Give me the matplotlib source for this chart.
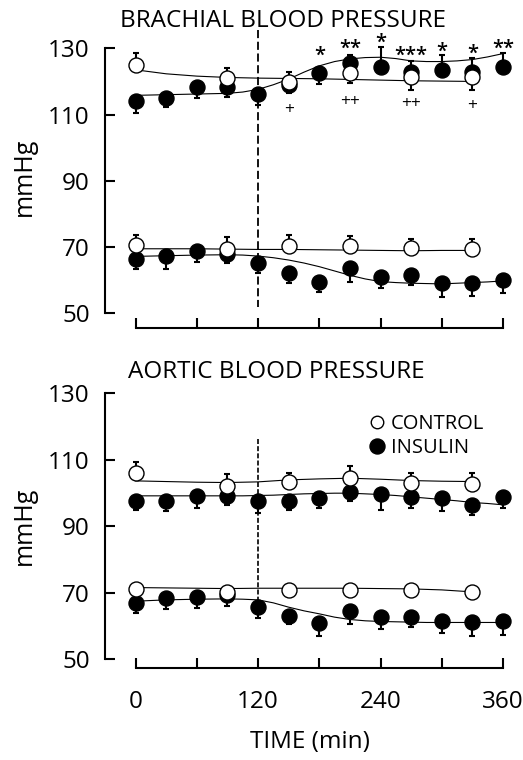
import numpy as np
import matplotlib
matplotlib.use("Agg")
import matplotlib.pyplot as plt
from matplotlib.lines import Line2D
from matplotlib.transforms import offset_copy
from matplotlib.textpath import TextPath
from matplotlib.font_manager import FontProperties

plt.rcParams['font.family'] = ['Open Sans', 'DejaVu Sans']

# sampling times (min)
t_ins = [0, 30, 60, 90, 120, 150, 180, 210, 240, 270, 300, 330, 360]
t_con = [0, 90, 150, 210, 270, 330]

# brachial systolic / diastolic (mmHg); signed error = direction of the bar
bs_con = [125.0, 120.9, 119.9, 122.6, 121.4, 121.4]
bs_con_err = [3.7, 3.1, 3.0, -3.2, -4.0, -4.0]
bs_ins = [114.2, 114.9, 118.2, 118.2, 116.2, 118.9, 122.6, 125.5, 124.4, 122.9, 123.4, 122.9, 124.3]
bs_ins_err = [-3.6, -2.7, -3.3, -2.8, -3.3, -2.5, -3.4, 2.5, 6.1, 3.4, 4.6, 4.1, 4.2]
bd_con = [70.7, 69.4, 70.4, 70.4, 69.7, 69.4]
bd_con_err = [3.0, 3.8, 3.3, 3.0, 2.8, 2.9]
bd_ins = [66.4, 67.2, 68.7, 67.8, 65.3, 62.3, 59.6, 63.6, 61.1, 61.6, 59.3, 59.3, 60.1]
bd_ins_err = [-3.1, -3.9, -3.1, -2.6, -3.2, -3.0, -3.1, -4.0, -3.5, -3.0, -4.3, -4.1, -3.9]

# aortic systolic / diastolic
as_con = [106.2, 102.3, 103.3, 104.5, 103.0, 102.8]
as_con_err = [3.3, 3.4, 2.9, 3.8, 3.2, 3.4]
as_ins = [97.7, 97.5, 99.2, 99.2, 97.7, 97.7, 98.5, 100.5, 99.8, 98.7, 98.5, 96.5, 98.8]
as_ins_err = [-2.7, -3.0, -3.7, -2.7, -3.7, -2.7, -3.0, -3.0, -5.0, -3.2, -4.0, -3.2, -3.3]
ad_con = [71.3, 70.3, 71.0, 71.0, 71.0, 70.3]
ad_con_err = [0.9, 0.9, 0.9, 0.9, 0.9, 0.9]
ad_ins = [67.0, 68.6, 68.8, 69.3, 65.8, 63.0, 60.8, 64.6, 62.6, 62.6, 61.5, 61.3, 61.5]
ad_ins_err = [-3.2, -3.3, -3.3, -3.3, -3.3, -2.5, -3.7, -4.1, -3.6, -3.0, -3.7, -4.2, -4.1]

# fitted curves
fit_t_con = [0, 30, 60, 90, 120, 150, 180, 210, 240, 270, 300, 330]
fit_t_ins = [0, 30, 60, 90, 105, 120, 135, 150, 165, 180, 195, 210, 225, 240,
             255, 270, 285, 300, 315, 330, 345, 360]
bs_con_fit = [123.5, 122.3, 121.6, 121.2, 121.0, 120.9, 120.8, 120.6, 120.4, 120.2, 120.1, 120.0]
bs_ins_fit = [115.8, 116.0, 116.2, 116.4, 116.8, 117.6, 119.0, 120.7, 122.8, 124.7, 126.0, 126.8,
              127.2, 127.3, 126.9, 126.2, 126.0, 126.0, 126.2, 126.6, 127.4, 128.4]
bd_con_fit = [69.5, 69.5, 69.5, 69.4, 69.3, 69.3, 69.2, 69.1, 69.0, 68.9, 69.0, 69.0]
bd_ins_fit = [67.2, 67.4, 67.6, 67.7, 67.6, 67.3, 66.8, 66.1, 65.2, 64.1, 62.8, 61.5,
              60.4, 59.6, 59.3, 59.1, 59.0, 58.9, 59.1, 59.3, 59.5, 59.8]
as_con_fit = [103.7, 103.5, 103.3, 103.2, 103.4, 104.0, 104.3, 104.5, 104.2, 103.8, 103.6, 103.5]
as_ins_fit = [99.2, 99.2, 99.2, 99.2, 99.2, 99.3, 99.4, 99.6, 99.8, 99.9, 100.0, 100.0,
              99.8, 99.6, 99.3, 98.9, 98.5, 98.1, 97.7, 97.2, 96.9, 96.5]
ad_con_fit = [71.6, 71.5, 71.4, 71.3, 71.4, 71.4, 71.4, 71.4, 71.3, 71.2, 70.9, 70.3]
ad_ins_fit = [67.5, 67.9, 68.1, 68.2, 68.1, 67.9, 67.0, 65.7, 64.6, 63.7, 62.7, 62.0,
              61.6, 61.4, 61.3, 61.2, 61.1, 61.1, 61.1, 61.1, 61.1, 61.1]

# significance marks (brachial panel), y = centre of the glyphs
star_t = [180, 210, 240, 270, 300, 330, 360]
star_txt = ['*', '**', '*', '***', '*', '*', '**']
star_y = [129.3, 131.7, 133.3, 129.4, 130.6, 130.0, 131.7]
plus_t = [150, 210, 270, 330]
plus_txt = ['+', '++', '++', '+']
plus_y = [111.9, 114.4, 113.9, 113.2]

W, H = 523, 760
fig = plt.figure(figsize=(W / 100, H / 100), dpi=100)


def add_ax(left, top, right, bottom):
    return fig.add_axes([left / W, 1 - bottom / H, (right - left) / W, (bottom - top) / H])


def yerr(e):
    e = np.asarray(e)
    return [np.clip(-e, 0, None), np.clip(e, 0, None)]


def series(ax, t, y, e, filled, z):
    fc = 'black' if filled else 'white'
    ax.errorbar(t, y, yerr=yerr(e), fmt='none', ecolor='black', elinewidth=1.5,
                capsize=2.5, capthick=1.5, zorder=z)
    ax.plot(t, y, 'o', ms=10.8, mfc=fc, mec='black', mew=1.0, zorder=z + 0.5, clip_on=False)


def style(ax, ylim, labels):
    ax.set_xlim(-30, 372)
    ax.set_ylim(*ylim)
    for s in ['top', 'right']:
        ax.spines[s].set_visible(False)
    ax.spines['left'].set_bounds(50, 130)
    ax.spines['bottom'].set_bounds(0, 360)
    for s in ['left', 'bottom']:
        ax.spines[s].set_linewidth(1.5)
    ax.set_yticks([50, 70, 90, 110, 130])
    ax.set_xticks(range(0, 361, 60))
    ax.set_xticklabels(labels)
    ax.tick_params(direction='in', length=7, width=1.5, labelsize=17.5)
    ax.tick_params(axis='y', pad=11)
    ax.tick_params(axis='x', pad=16)
    ax.set_ylabel('mmHg', fontsize=18, labelpad=8)
    ax.patch.set_visible(False)


def glyph_center(s, fs, weight='normal'):
    # vertical middle of the glyph ink above the baseline, in points
    prop = FontProperties(family='Open Sans', weight=weight)
    ext = TextPath((0, 0), s, size=fs, prop=prop).get_extents()
    return (ext.y0 + ext.y1) / 2


# ---- brachial ----
ax1 = add_ax(105, 25.1, 515.2, 328.3)
style(ax1, (45.5, 137), [''] * 7)
ax1.plot([120, 120], [135.4, 51.8], color='black', lw=1.3, ls=(0, (4.5, 2)), zorder=1, clip_on=False)
ax1.plot(fit_t_con, bs_con_fit, color='black', lw=0.8, zorder=2)
ax1.plot(fit_t_ins, bs_ins_fit, color='black', lw=0.8, zorder=2)
ax1.plot(fit_t_con, bd_con_fit, color='black', lw=0.8, zorder=2)
ax1.plot(fit_t_ins, bd_ins_fit, color='black', lw=0.8, zorder=2)
series(ax1, t_ins, bs_ins, bs_ins_err, True, 3)
series(ax1, t_con, bs_con, bs_con_err, False, 5)
series(ax1, t_ins, bd_ins, bd_ins_err, True, 3)
series(ax1, t_con, bd_con, bd_con_err, False, 5)

star_fs, plus_fs = 14.5, 12.5
star_tr = offset_copy(ax1.transData, fig=fig, y=-glyph_center('*', star_fs, 'semibold'), units='points')
plus_tr = offset_copy(ax1.transData, fig=fig, y=-glyph_center('+', plus_fs), units='points')
for t, s, y in zip(star_t, star_txt, star_y):
    ax1.text(t, y, s, ha='center', va='baseline', fontsize=star_fs, fontweight='semibold',
             transform=star_tr, clip_on=False)
for t, s, y in zip(plus_t, plus_txt, plus_y):
    ax1.text(t, y, s, ha='center', va='baseline', fontsize=plus_fs, transform=plus_tr)
fig.text(282.5 / W, 1 - 27 / H, 'BRACHIAL BLOOD PRESSURE', ha='center', va='baseline', fontsize=17.5)

# ---- aortic ----
ax2 = add_ax(105, 383.5, 515.2, 668.0)
style(ax2, (47.4, 133), ['0', '', '120', '', '240', '', '360'])
ax2.plot([120, 120], [116.2, 62.0], color='black', lw=1.2, ls=(0, (3, 1.3)), zorder=1)
ax2.plot(fit_t_con, as_con_fit, color='black', lw=0.8, zorder=2)
ax2.plot(fit_t_ins, as_ins_fit, color='black', lw=0.8, zorder=2)
ax2.plot(fit_t_con, ad_con_fit, color='black', lw=0.8, zorder=2)
ax2.plot(fit_t_ins, ad_ins_fit, color='black', lw=0.8, zorder=2)
series(ax2, t_ins, as_ins, as_ins_err, True, 3)
series(ax2, t_con, as_con, as_con_err, False, 5)
series(ax2, t_ins, ad_ins, ad_ins_err, True, 3)
series(ax2, t_con, ad_con, ad_con_err, False, 5)
ax2.set_xlabel('TIME (min)', fontsize=17.5, labelpad=11.5)
fig.text(128 / W, 1 - 378 / H, 'AORTIC BLOOD PRESSURE', ha='left', va='baseline', fontsize=17.5)

handles = [Line2D([], [], ls='none', marker='o', ms=9, mfc='white', mec='black', mew=1.0),
           Line2D([], [], ls='none', marker='o', ms=10.8, mfc='black', mec='black')]
ax2.legend(handles, ['CONTROL', 'INSULIN'], loc='upper left', frameon=False,
           bbox_to_anchor=(355 / W, 1 - 404 / H), bbox_transform=fig.transFigure,
           fontsize=14.5, handletextpad=0.1, labelspacing=0.2, borderpad=0, handlelength=1.2)

fig.savefig('out.png', dpi=100)
